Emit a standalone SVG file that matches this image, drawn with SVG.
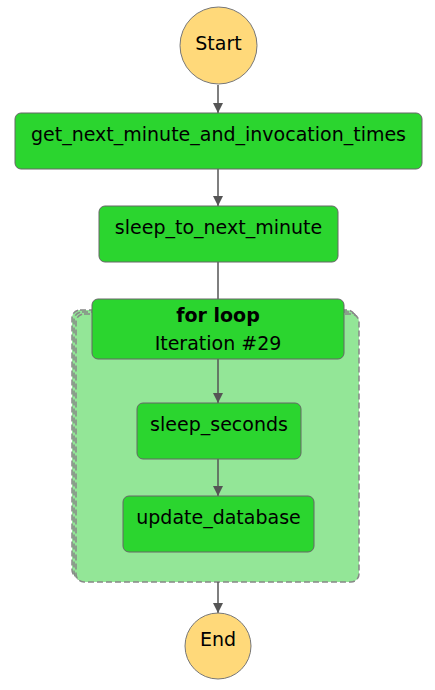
<svg xmlns="http://www.w3.org/2000/svg" width="435" height="690" viewBox="0 0 435 690">
<style>
.task{fill:#2bd52f;stroke:#666;stroke-width:1}
.term{fill:#ffd97a;stroke:#777;stroke-width:1}
.stack{fill:#93e697;stroke:#888;stroke-width:1.5;stroke-dasharray:6 3}
.lbl{font-family:"DejaVu Sans",sans-serif;font-size:19px;fill:#000;text-anchor:middle}
.bold{font-weight:bold}
.edge{stroke:#555;stroke-width:1.5;fill:none}
</style>
<defs>
<marker id="arr" viewBox="0 0 10 10" refX="10" refY="5" markerWidth="10" markerHeight="10" markerUnits="userSpaceOnUse" orient="auto">
<path d="M0,0 L10,5 L0,10 z" fill="#555"/>
</marker>
</defs>
<g id="map-background">
<rect class="stack" x="72" y="310" width="283" height="268" rx="8"/>
<rect class="stack" x="74" y="312" width="283" height="268" rx="8"/>
<rect class="stack" x="76" y="314" width="283" height="268" rx="8"/>
</g>
<g id="connectors">
<line class="edge" x1="218" y1="85" x2="218" y2="113" marker-end="url(#arr)"/>
<line class="edge" x1="218" y1="169" x2="218" y2="206" marker-end="url(#arr)"/>
<line class="edge" x1="218" y1="262" x2="218" y2="299"/>
<line class="edge" x1="218" y1="359" x2="218" y2="403" marker-end="url(#arr)"/>
<line class="edge" x1="218" y1="459" x2="218" y2="496" marker-end="url(#arr)"/>
<line class="edge" x1="218" y1="582" x2="218" y2="613" marker-end="url(#arr)"/>
</g>
<g id="start">
<circle class="term" cx="218.5" cy="45.5" r="38.5"/>
<text class="lbl" x="218.5" y="50">Start</text>
</g>
<g id="get_next_minute_and_invocation_times">
<rect class="task" x="15" y="113" width="407" height="56" rx="6"/>
<text class="lbl" x="218.5" y="141">get_next_minute_and_invocation_times</text>
</g>
<g id="sleep_to_next_minute">
<rect class="task" x="99" y="206" width="239" height="56" rx="6"/>
<text class="lbl" x="218.5" y="234">sleep_to_next_minute</text>
</g>
<g id="for_loop">
<rect class="task" x="92" y="299" width="252" height="60" rx="6"/>
<text class="lbl bold" x="218" y="322">for loop</text>
<text class="lbl" x="218" y="350">Iteration #29</text>
</g>
<g id="sleep_seconds">
<rect class="task" x="137" y="403" width="164" height="56" rx="6"/>
<text class="lbl" x="219" y="431">sleep_seconds</text>
</g>
<g id="update_database">
<rect class="task" x="123" y="496" width="191" height="56" rx="6"/>
<text class="lbl" x="218.5" y="524">update_database</text>
</g>
<g id="end">
<circle class="term" cx="218" cy="646" r="33"/>
<text class="lbl" x="218" y="646">End</text>
</g>
</svg>
